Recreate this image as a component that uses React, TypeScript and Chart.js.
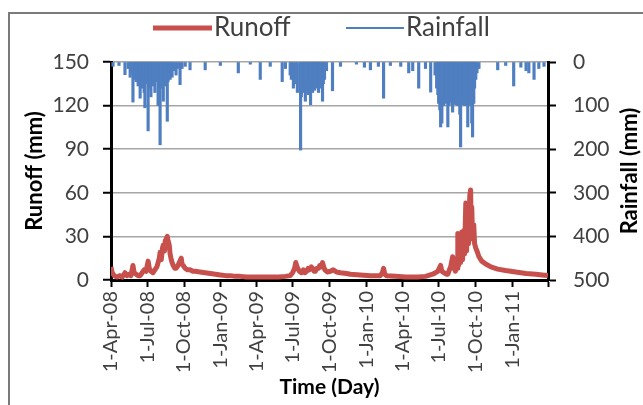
import { useEffect, useRef } from "react";
import { Chart, registerables } from "chart.js";

Chart.register(...registerables);

// Day offsets are counted from 1-Apr-08 (day 0)
const tickDays = [0, 91, 183, 275, 365, 456, 548, 640, 730, 821, 913, 1005, 1095];
const tickLabels = [
  "1-Apr-08", "1-Jul-08", "1-Oct-08", "1-Jan-09", "1-Apr-09", "1-Jul-09",
  "1-Oct-09", "1-Jan-10", "1-Apr-10", "1-Jul-10", "1-Oct-10", "1-Jan-11", "",
];

// Runoff (mm), left axis
const runoffDays = [
  0, 3, 8, 15, 22, 28, 35, 40, 45, 50, 55, 58, 63, 68, 73, 78, 83, 88, 93, 96,
  100, 105, 110, 115, 118, 121, 123, 126, 129, 131, 134, 136, 138, 141, 143, 146, 148, 151, 153, 156,
  160, 163, 168, 171, 176, 178, 181, 186, 192, 198, 205, 211, 223, 236, 249, 262, 274, 287, 299, 312,
  324, 340, 367, 399, 420, 437, 449, 455, 460, 463, 465, 468, 472, 477, 482, 486, 490, 494, 497, 502,
  505, 509, 512, 516, 520, 523, 527, 530, 533, 536, 542, 550, 557, 565, 575, 590, 600, 625, 650, 675,
  680, 683, 686, 690, 713, 738, 768, 788, 806, 813, 819, 824, 826, 829, 834, 840, 844, 848, 851, 856,
  858, 861, 863, 866, 868, 869, 871, 874, 876, 879, 881, 884, 886, 889, 891, 894, 896, 899, 901, 903,
  904, 906, 909, 911, 914, 917, 922, 929, 939, 952, 969, 989, 1014, 1040, 1065, 1080, 1095,
];
const runoffValues = [
  9, 5, 3, 2, 3, 2, 5, 3, 4, 3, 10, 5, 4, 3, 3, 5, 7, 6, 13, 8,
  6, 5, 7, 9, 12, 15, 19, 14, 22, 24, 20, 27, 28, 30, 27, 24, 18, 14, 12, 10,
  8, 8, 10, 12, 15, 11, 10, 8, 7, 7, 6, 6, 5.5, 5, 4.5, 4, 3.5, 3, 3, 2.5,
  2.5, 2, 2, 2, 2, 2.5, 3, 5, 8, 12, 10, 8, 6, 5, 7, 5, 6, 8, 7, 9,
  8, 6, 6, 8, 8, 10, 9, 12, 9, 7, 5.5, 6, 7, 5.5, 5, 4.5, 4, 3.5, 3, 3,
  5, 8, 4, 3, 2.5, 2, 2, 2.5, 4, 5, 6, 9, 10, 6, 5, 4, 4, 7, 9, 16,
  8, 12, 6, 15, 8, 32, 10, 30, 12, 33, 14, 34, 18, 53, 20, 48, 25, 58, 62, 30,
  50, 28, 38, 25, 22, 20, 16, 13, 11, 9, 7.5, 6.5, 5.5, 4.5, 4, 3.5, 3,
];

// Rainfall (mm), right axis (reversed)
const rainDays = [
  5, 20, 35, 43, 48, 50, 55, 58, 60, 63, 65, 68, 70, 73, 75, 78, 80, 83, 85, 88,
  90, 93, 95, 98, 100, 103, 105, 108, 110, 113, 116, 118, 121, 123, 126, 128, 131, 133, 136, 138,
  141, 143, 146, 148, 151, 153, 158, 163, 168, 173, 178, 186, 198, 236, 274, 319, 349, 374, 399, 429,
  437, 449, 452, 457, 462, 467, 475, 477, 480, 482, 487, 490, 492, 495, 500, 502, 505, 507, 510, 512,
  515, 517, 520, 522, 525, 530, 532, 535, 540, 555, 575, 615, 635, 650, 670, 683, 700, 726, 746, 756,
  771, 788, 801, 812, 816, 819, 821, 824, 826, 829, 831, 834, 836, 839, 841, 844, 846, 849, 851, 854,
  856, 859, 861, 864, 866, 869, 871, 874, 876, 879, 881, 884, 886, 889, 891, 894, 896, 899, 901, 904,
  906, 909, 911, 914, 917, 922, 969, 989, 1009, 1027, 1040, 1047, 1060, 1072, 1085,
];
const rainValues = [
  10, 8, 29, 15, 35, 25, 92, 40, 30, 45, 35, 55, 30, 83, 40, 60, 35, 70, 105, 50,
  40, 158, 60, 45, 80, 40, 55, 35, 70, 45, 40, 100, 50, 190, 60, 45, 90, 40, 55, 35,
  136, 45, 30, 40, 25, 35, 20, 30, 15, 52, 15, 10, 18, 18, 8, 25, 5, 40, 10, 45,
  15, 30, 40, 60, 50, 70, 202, 80, 60, 70, 90, 55, 65, 75, 98, 60, 70, 55, 65, 50,
  60, 55, 70, 50, 60, 90, 50, 40, 20, 66, 10, 5, 12, 18, 10, 83, 8, 10, 25, 20,
  60, 15, 69, 30, 60, 75, 95, 110, 149, 140, 95, 100, 90, 95, 92, 149, 100, 92, 90, 98,
  115, 95, 90, 98, 95, 100, 92, 120, 195, 98, 95, 90, 100, 95, 98, 149, 95, 100, 90, 140,
  172, 95, 60, 40, 25, 15, 18, 8, 55, 12, 20, 25, 40, 15, 10,
];

const FONT = "Lato";

const overlayPlugin = {
  id: "overlay",
  afterDraw(chart: any) {
    const ctx = chart.ctx as CanvasRenderingContext2D;
    const a = chart.chartArea;
    ctx.save();
    // legend
    ctx.font = `26px ${FONT}`;
    ctx.textBaseline = "middle";
    ctx.textAlign = "left";
    ctx.lineCap = "butt";
    ctx.strokeStyle = "#c8504c";
    ctx.lineWidth = 5;
    ctx.beginPath();
    ctx.moveTo(153, 28);
    ctx.lineTo(212, 28);
    ctx.stroke();
    ctx.fillStyle = "#404040";
    ctx.fillText("Runoff", 214, 28);
    ctx.strokeStyle = "#4f7fc0";
    ctx.lineWidth = 2;
    ctx.beginPath();
    ctx.moveTo(346, 28);
    ctx.lineTo(404, 28);
    ctx.stroke();
    ctx.fillText("Rainfall", 406, 28);
    // right axis title (reads bottom to top)
    ctx.translate(630, (a.top + a.bottom) / 2);
    ctx.rotate(-Math.PI / 2);
    ctx.font = `bold 22px ${FONT}`;
    ctx.textAlign = "center";
    ctx.fillStyle = "#000";
    ctx.fillText("Rainfall (mm)", 0, 0);
    ctx.restore();
  },
};

export default function App() {
  const ref = useRef<HTMLCanvasElement | null>(null);

  useEffect(() => {
    let chart: Chart | null = null;
    let cancelled = false;
    const make = () => {
      if (cancelled || !ref.current) return;
      chart = new Chart(ref.current, {
        type: "bar",
        data: {
          datasets: [
            {
              type: "line",
              label: "Runoff",
              data: runoffDays.map((d, i) => ({ x: d, y: runoffValues[i] })),
              borderColor: "#c8504c",
              backgroundColor: "#c8504c",
              borderWidth: 5,
              pointRadius: 0,
              tension: 0,
              borderJoinStyle: "round",
              yAxisID: "y",
              order: 1,
            } as any,
            {
              type: "bar",
              label: "Rainfall",
              data: rainDays.map((d, i) => ({ x: d, y: rainValues[i] })),
              backgroundColor: "#4f7fc0",
              borderWidth: 0,
              barThickness: 2.5,
              yAxisID: "y2",
              order: 2,
            } as any,
          ],
        },
        options: {
          responsive: false,
          animation: false,
          layout: { padding: { left: 0, right: 0, top: 62, bottom: 0 } },
          plugins: { legend: { display: false }, tooltip: { enabled: false } },
          scales: {
            x: {
              type: "linear",
              min: 0,
              max: 1095,
              offset: false,
              afterBuildTicks: (s: any) => {
                s.ticks = tickDays.map((v) => ({ value: v }));
              },
              afterFit: (s: any) => {
                s.height = 125;
              },
              ticks: {
                autoSkip: false,
                minRotation: 90,
                maxRotation: 90,
                padding: 4,
                color: "#404040",
                font: { family: FONT, size: 20 },
                callback: (_v: any, i: number) => tickLabels[i] ?? "",
              },
              grid: {
                drawOnChartArea: false,
                offset: false,
                tickColor: "#000",
                tickLength: 7,
                tickWidth: 2,
              },
              border: { color: "#000", width: 3 },
              title: {
                display: true,
                text: "Time (Day)",
                color: "#000",
                font: { family: FONT, size: 21, weight: "bold" },
                padding: { top: 0, bottom: 5 },
              },
            } as any,
            y: {
              position: "left",
              min: 0,
              max: 150,
              afterFit: (s: any) => {
                s.width = 111;
              },
              ticks: {
                stepSize: 30,
                padding: 14,
                color: "#404040",
                font: { family: FONT, size: 21 },
              },
              grid: {
                color: "#a6a6a6",
                lineWidth: 1.5,
                tickColor: "#000",
                tickLength: 8,
                tickWidth: 2,
              },
              border: { color: "#000", width: 3 },
              title: {
                display: true,
                text: "Runoff (mm)",
                color: "#000",
                font: { family: FONT, size: 22, weight: "bold" },
                padding: { top: 22, bottom: 0 },
              },
            } as any,
            y2: {
              position: "right",
              min: 0,
              max: 500,
              reverse: true,
              afterFit: (s: any) => {
                s.width = 95;
              },
              ticks: {
                stepSize: 100,
                padding: 17,
                color: "#404040",
                font: { family: FONT, size: 21 },
              },
              grid: {
                drawOnChartArea: false,
                tickColor: "#000",
                tickLength: 8,
                tickWidth: 2,
              },
              border: { color: "#000", width: 3 },
            } as any,
          },
        },
        plugins: [overlayPlugin],
      });
    };
    const fonts: any = (document as any).fonts;
    if (fonts && fonts.load) {
      Promise.all([fonts.load(`21px ${FONT}`), fonts.load(`bold 22px ${FONT}`)])
        .catch(() => null)
        .then(make);
    } else {
      make();
    }
    return () => {
      cancelled = true;
      if (chart) chart.destroy();
    };
  }, []);

  return (
    <div
      style={{
        position: "fixed",
        left: 0,
        top: 0,
        width: 643,
        height: 405,
        overflow: "hidden",
        background: "#fff",
      }}
    >
      <div
        style={{
          position: "absolute",
          left: 8,
          top: 12,
          width: 700,
          height: 500,
          border: "2px solid #7a7a7a",
        }}
      />
      <canvas
        ref={ref}
        width={643}
        height={405}
        style={{ position: "absolute", left: 0, top: 0 }}
      />
    </div>
  );
}
